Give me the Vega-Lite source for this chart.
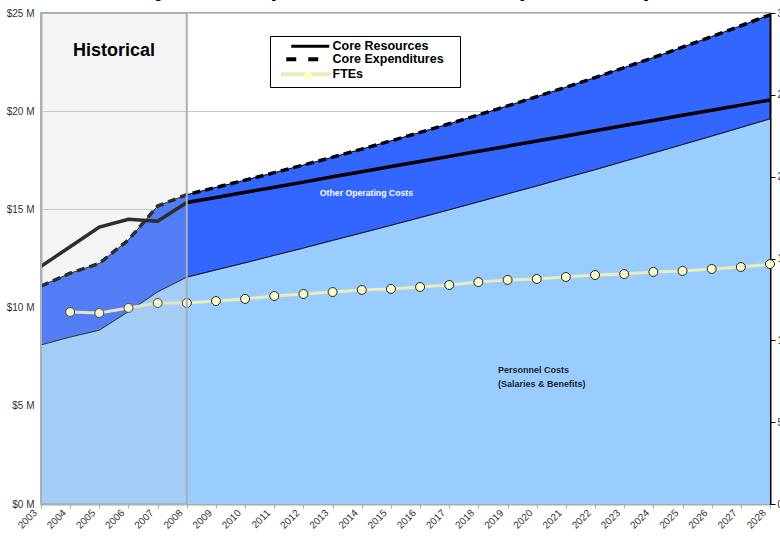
{
  "$schema": "https://vega.github.io/schema/vega-lite/v6.json",
  "width": 729,
  "height": 491,
  "autosize": {"type": "none"},
  "padding": {"left": 41, "top": 13, "right": 10, "bottom": 36},
  "background": "white",
  "title": {
    "text": "Library Core Expenditures Forecast (2003-2028)",
    "anchor": "start",
    "frame": "group",
    "dx": 43,
    "dy": 13,
    "offset": 0,
    "baseline": "alphabetic",
    "fontSize": 25,
    "font": "Liberation Sans",
    "fontWeight": "bold",
    "color": "#000000"
  },
  "config": {
    "view": {"stroke": "#aaaaaa", "strokeWidth": 2},
    "font": "Liberation Sans",
    "axisX": {
      "labelAngle": -45, "labelAlign": "right", "labelBaseline": "middle", "grid": false,
      "domainColor": "#aaaaaa", "domainWidth": 2,
      "tickColor": "#aaaaaa", "tickSize": 4,
      "labelFontSize": 10, "labelColor": "#333333", "labelPadding": 3, "labelOffset": -6,
      "labelOverlap": false, "labelBound": false
    }
  },
  "datasets": {
    "main": [
      {"year": 2003, "personnel": 8.1, "expenditures": 11.1, "resources": 12.1, "fte": null},
      {"year": 2004, "personnel": 8.5, "expenditures": 11.75, "resources": 13.1, "fte": 117.3},
      {"year": 2005, "personnel": 8.85, "expenditures": 12.25, "resources": 14.1, "fte": 116.7},
      {"year": 2006, "personnel": 9.8, "expenditures": 13.45, "resources": 14.5, "fte": 119.8},
      {"year": 2007, "personnel": 10.8, "expenditures": 15.17, "resources": 14.4, "fte": 122.8},
      {"year": 2008, "personnel": 11.55, "expenditures": 15.75, "resources": 15.35, "fte": 122.8},
      {"year": 2009, "personnel": 11.92, "expenditures": 16.12, "resources": 15.61, "fte": 124.0},
      {"year": 2010, "personnel": 12.28, "expenditures": 16.49, "resources": 15.87, "fte": 125.3},
      {"year": 2011, "personnel": 12.66, "expenditures": 16.87, "resources": 16.13, "fte": 127.1},
      {"year": 2012, "personnel": 13.03, "expenditures": 17.26, "resources": 16.39, "fte": 128.3},
      {"year": 2013, "personnel": 13.42, "expenditures": 17.66, "resources": 16.66, "fte": 129.5},
      {"year": 2014, "personnel": 13.8, "expenditures": 18.07, "resources": 16.92, "fte": 130.8},
      {"year": 2015, "personnel": 14.19, "expenditures": 18.49, "resources": 17.18, "fte": 131.4},
      {"year": 2016, "personnel": 14.58, "expenditures": 18.92, "resources": 17.44, "fte": 132.6},
      {"year": 2017, "personnel": 14.98, "expenditures": 19.36, "resources": 17.7, "fte": 133.8},
      {"year": 2018, "personnel": 15.38, "expenditures": 19.81, "resources": 17.96, "fte": 135.6},
      {"year": 2019, "personnel": 15.79, "expenditures": 20.27, "resources": 18.22, "fte": 136.9},
      {"year": 2020, "personnel": 16.19, "expenditures": 20.74, "resources": 18.48, "fte": 137.5},
      {"year": 2021, "personnel": 16.61, "expenditures": 21.22, "resources": 18.74, "fte": 138.7},
      {"year": 2022, "personnel": 17.02, "expenditures": 21.71, "resources": 19.0, "fte": 139.9},
      {"year": 2023, "personnel": 17.45, "expenditures": 22.22, "resources": 19.27, "fte": 140.5},
      {"year": 2024, "personnel": 17.87, "expenditures": 22.73, "resources": 19.53, "fte": 141.8},
      {"year": 2025, "personnel": 18.3, "expenditures": 23.26, "resources": 19.79, "fte": 142.4},
      {"year": 2026, "personnel": 18.73, "expenditures": 23.8, "resources": 20.05, "fte": 143.6},
      {"year": 2027, "personnel": 19.17, "expenditures": 24.35, "resources": 20.31, "fte": 144.8},
      {"year": 2028, "personnel": 19.61, "expenditures": 24.91, "resources": 20.57, "fte": 146.6}
    ]
  },
  "data": {"name": "main"},
  "layer": [
    {
      "layer": [
        {
          "mark": {"type": "area", "color": "#99ccff"},
          "encoding": {
            "x": {
              "field": "year", "type": "quantitative", "title": null,
              "scale": {"domain": [2003, 2028], "nice": false, "zero": false},
              "axis": {"values": [2003,2004,2005,2006,2007,2008,2009,2010,2011,2012,2013,2014,2015,2016,2017,2018,2019,2020,2021,2022,2023,2024,2025,2026,2027,2028], "format": "d", "labelAngle": -45, "labelAlign": "right", "labelBaseline": "middle", "labelOffset": -6, "labelOverlap": false, "title": null}
            },
            "y": {
              "field": "personnel", "type": "quantitative", "title": null,
              "scale": {"domain": [0, 25], "nice": false},
              "axis": {
                "values": [0, 5, 10, 15, 20, 25],
                "labelExpr": "'$' + datum.value + ' M'",
                "grid": true, "gridColor": "#c8c8c8",
                "domainColor": "#aaaaaa", "domainWidth": 2,
                "ticks": false, "labelPadding": 7,
                "labelFontSize": 10, "labelColor": "#333333", "title": null
              }
            }
          }
        },
        {
          "mark": {"type": "area", "fill": "#3366ff", "stroke": "#000000", "strokeWidth": 1},
          "encoding": {
            "x": {"field": "year", "type": "quantitative", "title": null, "axis": {"values": [2003,2004,2005,2006,2007,2008,2009,2010,2011,2012,2013,2014,2015,2016,2017,2018,2019,2020,2021,2022,2023,2024,2025,2026,2027,2028], "format": "d", "labelAngle": -45, "labelAlign": "right", "labelBaseline": "middle", "labelOffset": -6, "labelOverlap": false, "title": null}},
            "y": {"field": "expenditures", "type": "quantitative", "title": null},
            "y2": {"field": "personnel"}
          }
        },
        {
          "mark": {"type": "line", "strokeWidth": 3.5, "strokeDash": [8, 5]},
          "encoding": {
            "x": {"field": "year", "type": "quantitative", "title": null, "axis": {"values": [2003,2004,2005,2006,2007,2008,2009,2010,2011,2012,2013,2014,2015,2016,2017,2018,2019,2020,2021,2022,2023,2024,2025,2026,2027,2028], "format": "d", "labelAngle": -45, "labelAlign": "right", "labelBaseline": "middle", "labelOffset": -6, "labelOverlap": false, "title": null}},
            "y": {"field": "expenditures", "type": "quantitative", "title": null},
            "color": {
              "datum": "Core Expenditures",
              "scale": {"domain": ["Core Resources", "Core Expenditures", "FTEs"], "range": ["#000000", "#000000", "#ebebbb"]},
              "legend": {
                "orient": "none", "legendX": 229, "legendY": 23,
                "title": " ", "titleOrient": "right", "titlePadding": 12, "titleFontSize": 1,
                "fillColor": "white", "strokeColor": "#000000", "padding": 4, "rowPadding": -2,
                "labelFont": "Liberation Sans", "labelFontSize": 12.5, "labelFontWeight": "bold", "labelColor": "#000000",
                "labelLimit": 300,
                "symbolSize": 100, "symbolOffset": 29, "labelOffset": 17, "symbolStrokeWidth": 3,
                "encode": {
                  "symbols": {
                    "update": {
                      "shape": {"signal": "datum.value === 'Core Expenditures' ? 'M-4.6,0H-2.6M-0.2,0H1.8' : (datum.value === 'FTEs' ? 'M-5.6,0H4.4' : 'M-3.6,0H4')"},
                      "strokeWidth": {"signal": "datum.value === 'Core Resources' ? 3 : 4"},
                      "strokeDash": {"value": []},
                      "fill": {"value": "transparent"}
                    }
                  }
                }
              }
            }
          }
        },
        {
          "mark": {"type": "line", "strokeWidth": 3.5},
          "encoding": {
            "x": {"field": "year", "type": "quantitative", "title": null, "axis": {"values": [2003,2004,2005,2006,2007,2008,2009,2010,2011,2012,2013,2014,2015,2016,2017,2018,2019,2020,2021,2022,2023,2024,2025,2026,2027,2028], "format": "d", "labelAngle": -45, "labelAlign": "right", "labelBaseline": "middle", "labelOffset": -6, "labelOverlap": false, "title": null}},
            "y": {"field": "resources", "type": "quantitative", "title": null},
            "color": {"datum": "Core Resources"}
          }
        }
      ]
    },
    {
      "transform": [{"filter": "datum.fte != null"}],
      "layer": [
        {
          "mark": {"type": "line", "strokeWidth": 3},
          "encoding": {
            "x": {"field": "year", "type": "quantitative", "title": null, "axis": {"values": [2003,2004,2005,2006,2007,2008,2009,2010,2011,2012,2013,2014,2015,2016,2017,2018,2019,2020,2021,2022,2023,2024,2025,2026,2027,2028], "format": "d", "labelAngle": -45, "labelAlign": "right", "labelBaseline": "middle", "labelOffset": -6, "labelOverlap": false, "title": null}},
            "y": {
              "field": "fte", "type": "quantitative", "title": null,
              "scale": {"domain": [0, 300], "nice": false},
              "axis": {
                "orient": "right", "values": [0, 50, 100, 150, 200, 250, 300],
                "grid": false, "domainColor": "#000000", "domainWidth": 2,
                "tickColor": "#000000", "tickSize": 5, "tickWidth": 1,
                "labelFontSize": 10, "labelColor": "#333333", "labelPadding": 2, "title": null
              }
            },
            "color": {"datum": "FTEs"}
          }
        },
        {
          "mark": {"type": "point", "filled": true, "fill": "#ffffcc", "stroke": "#222222", "strokeWidth": 1, "size": 80, "opacity": 1},
          "encoding": {
            "x": {"field": "year", "type": "quantitative", "title": null, "axis": {"values": [2003,2004,2005,2006,2007,2008,2009,2010,2011,2012,2013,2014,2015,2016,2017,2018,2019,2020,2021,2022,2023,2024,2025,2026,2027,2028], "format": "d", "labelAngle": -45, "labelAlign": "right", "labelBaseline": "middle", "labelOffset": -6, "labelOverlap": false, "title": null}},
            "y": {"field": "fte", "type": "quantitative", "title": null},
            "shape": {
              "datum": "FTEs",
              "scale": {"range": ["circle"]},
              "legend": {
                "orient": "none", "legendX": 262, "legendY": 58, "title": null,
                "padding": 0, "labelExpr": "''", "labelFontSize": 8,
                "symbolSize": 70, "symbolType": "circle",
                "symbolFillColor": "#ffffcc", "symbolStrokeColor": "#222222", "symbolStrokeWidth": 1,
                "symbolOffset": 0, "labelOffset": 0, "zindex": 2
              }
            }
          }
        }
      ]
    },
    {
      "layer": [
        {
          "data": {"values": [{"start": 2003, "end": 2008}]},
          "mark": {"type": "rect", "fill": "#c8d2d2", "fillOpacity": 0.22, "stroke": "#aab0b6", "strokeWidth": 2},
          "encoding": {
            "x": {"field": "start", "type": "quantitative", "title": null, "axis": {"values": [2003,2004,2005,2006,2007,2008,2009,2010,2011,2012,2013,2014,2015,2016,2017,2018,2019,2020,2021,2022,2023,2024,2025,2026,2027,2028], "format": "d", "labelAngle": -45, "labelAlign": "right", "labelBaseline": "middle", "labelOffset": -6, "labelOverlap": false, "title": null}},
            "x2": {"field": "end"}
          }
        },
        {
          "data": {"values": [{"label": "Historical", "year": 2005.5, "value": 23.07}]},
          "mark": {"type": "text", "font": "Liberation Sans", "fontSize": 18, "fontWeight": "bold", "color": "#000000", "align": "center", "baseline": "middle"},
          "encoding": {
            "x": {"field": "year", "type": "quantitative", "title": null, "axis": {"values": [2003,2004,2005,2006,2007,2008,2009,2010,2011,2012,2013,2014,2015,2016,2017,2018,2019,2020,2021,2022,2023,2024,2025,2026,2027,2028], "format": "d", "labelAngle": -45, "labelAlign": "right", "labelBaseline": "middle", "labelOffset": -6, "labelOverlap": false, "title": null}},
            "y": {"field": "value", "type": "quantitative", "title": null, "scale": {"domain": [0, 25], "nice": false}, "axis": null},
            "text": {"field": "label"}
          }
        },
        {
          "data": {"values": [{"label": "Other Operating Costs", "year": 2014.16, "value": 15.84}]},
          "mark": {"type": "text", "font": "Liberation Sans", "fontSize": 8.7, "fontWeight": "bold", "color": "#ffffff", "align": "center", "baseline": "middle"},
          "encoding": {
            "x": {"field": "year", "type": "quantitative", "title": null, "axis": {"values": [2003,2004,2005,2006,2007,2008,2009,2010,2011,2012,2013,2014,2015,2016,2017,2018,2019,2020,2021,2022,2023,2024,2025,2026,2027,2028], "format": "d", "labelAngle": -45, "labelAlign": "right", "labelBaseline": "middle", "labelOffset": -6, "labelOverlap": false, "title": null}},
            "y": {"field": "value", "type": "quantitative", "title": null},
            "text": {"field": "label"}
          }
        },
        {
          "data": {"values": [
            {"label": "Personnel Costs", "year": 2018.67, "value": 6.82},
            {"label": "(Salaries & Benefits)", "year": 2018.67, "value": 6.11}
          ]},
          "mark": {"type": "text", "font": "Liberation Sans", "fontSize": 9, "fontWeight": "bold", "color": "#1c1c2c", "align": "left", "baseline": "middle"},
          "encoding": {
            "x": {"field": "year", "type": "quantitative", "title": null, "axis": {"values": [2003,2004,2005,2006,2007,2008,2009,2010,2011,2012,2013,2014,2015,2016,2017,2018,2019,2020,2021,2022,2023,2024,2025,2026,2027,2028], "format": "d", "labelAngle": -45, "labelAlign": "right", "labelBaseline": "middle", "labelOffset": -6, "labelOverlap": false, "title": null}},
            "y": {"field": "value", "type": "quantitative", "title": null},
            "text": {"field": "label"}
          }
        }
      ]
    }
  ],
  "resolve": {"scale": {"y": "independent"}}
}
